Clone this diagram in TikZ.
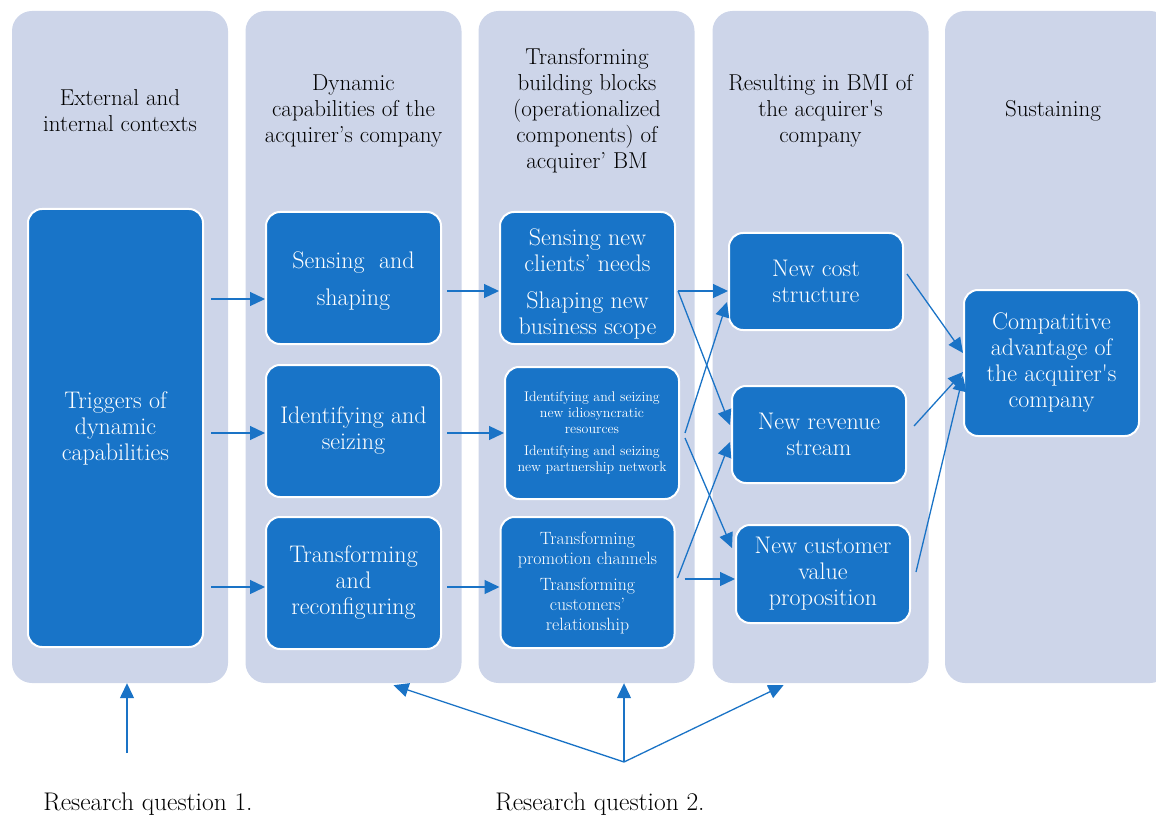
\documentclass[tikz,border=0pt]{standalone}
\usepackage{fontspec}
\usetikzlibrary{arrows.meta}
\definecolor{colbg}{HTML}{CDD5E9}
\definecolor{boxblue}{HTML}{1874C8}
\definecolor{arrblue}{HTML}{1A73C6}
\tikzset{
  colbox/.style={fill=colbg, rounded corners=20pt, minimum width=216pt, minimum height=672pt, inner sep=0pt},
  header/.style={align=center, font=\fontsize{23}{26}\selectfont, text=black, inner sep=0pt},
  bbox/.style={draw=white, line width=2pt, fill=boxblue, rounded corners=14pt, text=white, align=center, inner sep=0pt, font=\fontsize{24}{26}\selectfont},
  arr/.style={draw=arrblue, line width=1.3pt, -{Triangle[length=15pt,width=14pt]}},
  lbl/.style={font=\fontsize{25.5}{28}\selectfont, inner sep=0pt}
}
\begin{document}
\begin{tikzpicture}[x=1pt,y=-1pt]
\useasboundingbox (0,0) rectangle (1156,818);
% columns
\node[colbox] (col1) at (120,347) {};
\node[colbox] (col2) at (353.5,347) {};
\node[colbox] (col3) at (586.5,347) {};
\node[colbox] (col4) at (820.5,347) {};
\node[colbox, minimum width=225pt] (col5) at (1057.5,347) {};
% headers
\node[header] (h1) at (120,111) {External and\\internal contexts};
\node[header] (h2) at (353.5,111) {Dynamic\\capabilities of the\\acquirer’s company};
\node[header] (h3) at (587,111) {Transforming\\building blocks\\(operationalized\\components) of\\acquirer’ BM};
\node[header] (h4) at (820.5,111) {Resulting in BMI of\\the acquirer\textquotesingle s\\company};
\node[header] (h5) at (1053,111) {Sustaining};
% boxes
\node[bbox, minimum width=175pt, minimum height=438pt] (A) at (115.5,428) {Triggers of\\dynamic\\capabilities};
\node[bbox, minimum width=175pt, minimum height=132pt] (B1) at (353.5,278) {\rule{0pt}{23pt}Sensing\ \ and\\[11pt]shaping};
\node[bbox, minimum width=175pt, minimum height=132pt] (B2) at (353.5,431) {Identifying and\\seizing};
\node[bbox, minimum width=175pt, minimum height=132pt] (B3) at (353.5,583) {Transforming\\and\\reconfiguring};
\node[bbox, minimum width=175pt, minimum height=132pt] (C1) at (587.5,278) {\rule{0pt}{29pt}Sensing new\\clients’ needs\\[11pt]Shaping new\\business scope};
\node[bbox, minimum width=174pt, minimum height=132pt, font=\fontsize{14}{16}\selectfont] (C2) at (592,433) {Identifying and seizing\\new idiosyncratic\\resources\\[6pt]Identifying and seizing\\new partnership network};
\node[bbox, minimum width=174pt, minimum height=131pt, font=\fontsize{17.8}{20}\selectfont] (C3) at (587.5,582.5) {Transforming\\promotion channels\\[6pt]Transforming\\customers’\\relationship};
\node[bbox, minimum width=174pt, minimum height=97pt] (D1) at (816,281.5) {New cost\\structure};
\node[bbox, minimum width=174pt, minimum height=97pt] (D2) at (819,434.5) {New revenue\\stream};
\node[bbox, minimum width=174pt, minimum height=98pt] (D3) at (823,574) {New customer\\value\\proposition};
\node[bbox, minimum width=175pt, minimum height=146pt] (E) at (1051.5,363) {Compatitive\\advantage of\\the acquirer\textquotesingle s\\company};
% arrows A -> B
\draw[arr] ([xshift=7pt]A.east |- 0,299) -- (B1.west |- 0,299);
\draw[arr] ([xshift=7pt]A.east |- 0,433) -- (B2.west |- 0,433);
\draw[arr] ([xshift=7pt]A.east |- 0,587) -- (B3.west |- 0,587);
% arrows B -> C
\draw[arr] ([xshift=5pt]B1.east |- 0,291) -- (C1.west |- 0,291);
\draw[arr] ([xshift=5pt]B2.east |- 0,433) -- (C2.west |- 0,433);
\draw[arr] ([xshift=5pt]B3.east |- 0,587) -- (C3.west |- 0,587);
% arrows C -> D
\draw[arr] ([xshift=2pt]C1.east |- 0,291) -- (D1.west |- 0,291);
\draw[arr] ([xshift=2pt]C1.east |- 0,291) -- ([xshift=-1pt]D2.west |- 0,425);
\draw[arr] ([xshift=5pt]C2.east |- 0,433) -- ([xshift=-1pt]D1.west |- 0,302);
\draw[arr] ([xshift=5pt]C2.east |- 0,438) -- ([xshift=-3pt]D3.west |- 0,548);
\draw[arr] ([xshift=2pt]C3.east |- 0,578) -- ([xshift=-1pt]D2.west |- 0,442);
\draw[arr] ([xshift=9pt]C3.east |- 0,579) -- (D3.west |- 0,579);
% arrows D -> E
\draw[arr] ([xshift=3pt]D1.east |- 0,274) -- (E.west |- 0,353);
\draw[arr] ([xshift=7pt]D2.east |- 0,426) -- (E.west |- 0,372);
\draw[arr] ([xshift=5pt]D3.east |- 0,572) -- (E.west |- 0,376);
% research questions
\coordinate (rq1) at (127,753);
\coordinate (rq2) at (624,762);
\draw[arr] (rq1) -- (rq1 |- col1.south);
\draw[arr] (rq2) -- ([xshift=40pt,yshift=-2pt]col2.south);
\draw[arr] (rq2) -- (rq2 |- col3.south);
\draw[arr] (rq2) -- ([xshift=-37pt,yshift=-2pt]col4.south);
\node[lbl] (q1) at (148,804) {Research question 1.};
\node[lbl] (q2) at (600,804) {Research question 2.};
\end{tikzpicture}
\end{document}
